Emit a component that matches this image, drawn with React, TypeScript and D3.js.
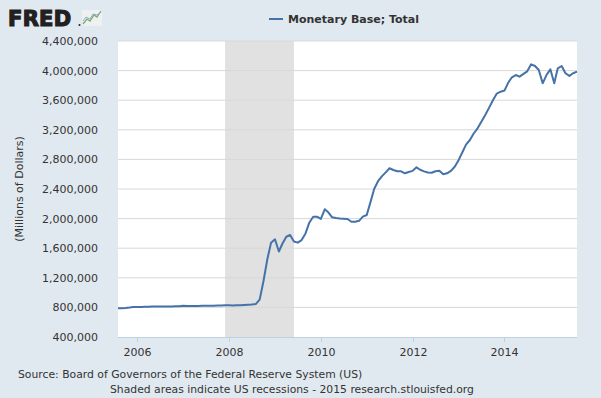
import React from 'react';
import * as d3 from 'd3';

// monthly, Aug 2005 .. Aug 2015 (millions of dollars)
const startMonth = new Date(2005, 7, 1);
const endMonth = new Date(2015, 7, 1);

const monetaryBase = [
  // 2005 Aug-Dec
  788, 790, 792, 798, 805,
  // 2006
  806, 806, 808, 810, 812, 812, 812, 813, 813, 813, 815, 816,
  // 2007
  822, 819, 819, 820, 820, 822, 822, 823, 823, 824, 826, 828,
  // 2008
  828, 826, 828, 830, 832, 835, 838, 845, 905, 1150, 1450, 1675,
  // 2009
  1720, 1555, 1660, 1755, 1778, 1690, 1675, 1710, 1800, 1945, 2026, 2026,
  // 2010
  1995, 2126, 2085, 2018, 2008, 2002, 1998, 1995, 1958, 1958, 1970, 2026,
  // 2011
  2049, 2229, 2400, 2505, 2570, 2625, 2680, 2657, 2640, 2639, 2612, 2630,
  // 2012
  2645, 2693, 2660, 2638, 2622, 2620, 2640, 2648, 2600, 2612, 2645, 2700,
  // 2013
  2790, 2900, 3000, 3062, 3150, 3220, 3310, 3400, 3500, 3600, 3690, 3715,
  // 2014
  3730, 3840, 3910, 3940, 3918, 3955, 3990, 4085, 4062, 4008, 3828, 3940,
  // 2015 Jan-Aug
  4017, 3828, 4031, 4062, 3964, 3928, 3964, 3986,
].map((v) => v * 1000);

const recessions = [[new Date(2007, 11, 1), new Date(2009, 5, 1)]];
const yTicks = [400000, 800000, 1200000, 1600000, 2000000, 2400000, 2800000, 3200000, 3600000, 4000000, 4400000];
const xTickYears = [2006, 2008, 2010, 2012, 2014];

const seriesName = 'Monetary Base; Total';
const yTitle = '(Millions of Dollars)';
const sourceLine = 'Source: Board of Governors of the Federal Reserve System (US)';
const noteLine = 'Shaded areas indicate US recessions - 2015 research.stlouisfed.org';

const W = 601;
const H = 398;
const margin = { top: 41, right: 24, bottom: 61, left: 118 };

export default function App() {
  const x = d3
    .scaleTime()
    .domain([startMonth, endMonth])
    .range([margin.left, W - margin.right]);
  const y = d3
    .scaleLinear()
    .domain([400000, 4400000])
    .range([H - margin.bottom, margin.top]);

  const points = monetaryBase.map((v, i) => ({
    date: d3.timeMonth.offset(startMonth, i),
    value: v,
  }));
  const line = d3
    .line<{ date: Date; value: number }>()
    .x((d) => x(d.date))
    .y((d) => y(d.value));

  const fmt = d3.format(',.0f');
  const font = '"DejaVu Sans", Verdana, sans-serif';
  const textColor = '#333';

  return (
    <svg width={W} height={H} style={{ position: 'absolute', left: 0, top: 0 }} fontFamily={font}>
      <rect width={W} height={H} fill="#e1e9f0" />

      {/* logo */}
      <text x={8} y={26} fontFamily='"DejaVu Sans", sans-serif' fontWeight="bold" fontSize={21} fill="#231f20" letterSpacing={0.3} style={{ stroke: '#231f20', strokeWidth: 1.2 }}>
        FRED
      </text>
      <circle cx={79.5} cy={25} r={1} fill="#231f20" />
      <g>
        <rect x={82} y={10} width={20} height={16} fill="#eef0f2" />
        <polyline points="83,24 87,19 90,21 94,15 97,17 101,11" fill="none" stroke="#7cae6a" strokeWidth={1.3} />
        <polyline points="83,21 86,17 90,19 93,14 97,15 101,12" fill="none" stroke="#8fa9c4" strokeWidth={1} />
      </g>

      {/* legend */}
      <line x1={269} x2={283} y1={19} y2={19} stroke="#4572a7" strokeWidth={2} />
      <text x={288} y={23} fontSize={11} fontWeight="bold" fill={textColor}>
        {seriesName}
      </text>

      {/* plot */}
      <rect x={margin.left} y={margin.top} width={W - margin.left - margin.right} height={H - margin.top - margin.bottom} fill="#fff" />
      {recessions.map(([a, b], i) => (
        <rect key={i} x={x(a)} y={margin.top} width={x(b) - x(a)} height={H - margin.top - margin.bottom} fill="#e1e1e1" />
      ))}
      {yTicks.map((t) => (
        <g key={t}>
          {t > 400000 && (
            <line x1={margin.left} x2={W - margin.right} y1={y(t)} y2={y(t)} stroke="#d8d8d8" strokeWidth={1} />
          )}
          <text x={98} y={y(t) + 4} textAnchor="end" fontSize={11} fill={textColor}>
            {fmt(t)}
          </text>
        </g>
      ))}
      <line x1={margin.left} x2={W - margin.right} y1={H - margin.bottom + 0.5} y2={H - margin.bottom + 0.5} stroke="#c0d0e0" />
      {xTickYears.map((yr) => {
        const px = Math.round(x(new Date(yr, 0, 1))) + 0.5;
        return (
          <g key={yr}>
            <line x1={px} x2={px} y1={H - margin.bottom} y2={H - margin.bottom + 5} stroke="#c0d0e0" />
            <text x={px} y={356} textAnchor="middle" fontSize={11} fill={textColor}>
              {yr}
            </text>
          </g>
        );
      })}
      <path d={line(points) ?? ''} fill="none" stroke="#4572a7" strokeWidth={2} strokeLinejoin="round" />

      <text transform={`translate(23, ${(margin.top + H - margin.bottom) / 2}) rotate(-90)`} textAnchor="middle" fontSize={11} fill={textColor}>
        {yTitle}
      </text>

      <text x={18} y={378} fontSize={10.8} fill={textColor}>
        {sourceLine}
      </text>
      <text x={110} y={393} fontSize={10.8} fill={textColor}>
        {noteLine}
      </text>
    </svg>
  );
}
